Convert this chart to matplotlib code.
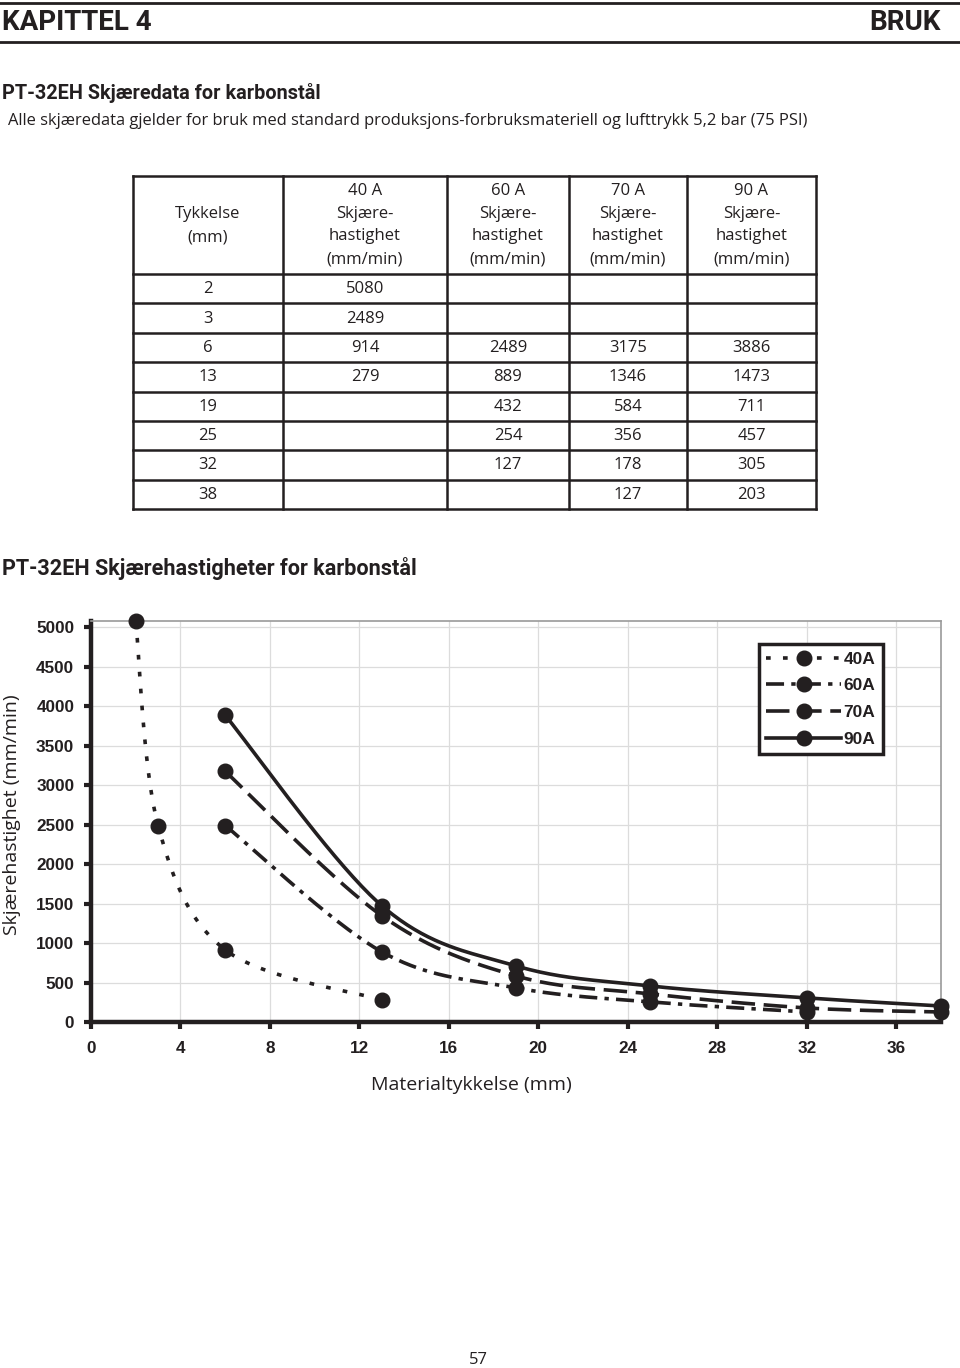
import numpy as np
import matplotlib
matplotlib.use('Agg')
import matplotlib.pyplot as plt
from matplotlib.lines import Line2D

# table / chart data
thickness = [2, 3, 6, 13, 19, 25, 32, 38]
speed_40a = [5080, 2489, 914, 279, None, None, None, None]
speed_60a = [None, None, 2489, 889, 432, 254, 127, None]
speed_70a = [None, None, 3175, 1346, 584, 356, 178, 127]
speed_90a = [None, None, 3886, 1473, 711, 457, 305, 203]
series_labels = ['40A', '60A', '70A', '90A']
col_headers = ['40 A', '60 A', '70 A', '90 A']
x_ticks = [0, 4, 8, 12, 16, 20, 24, 28, 32, 36]
y_ticks = [0, 500, 1000, 1500, 2000, 2500, 3000, 3500, 4000, 4500, 5000]

INK = '#231f20'
COND = ['Roboto', 'DejaVu Sans']
BODY = ['Open Sans', 'DejaVu Sans']
ARIAL = ['Liberation Sans', 'DejaVu Sans']


def smooth(xs, ys, n=40):
    # bezier smoothing like spreadsheet "smoothed line"
    p = np.column_stack([xs, ys]).astype(float)
    ext = np.vstack([p[0], p, p[-1]])
    out = []
    t = np.linspace(0, 1, n)[:, None]
    for i in range(len(p) - 1):
        p0, p3 = ext[i + 1], ext[i + 2]
        c1 = p0 + (ext[i + 2] - ext[i]) / 6
        c2 = p3 - (ext[i + 3] - ext[i + 1]) / 6
        seg = (1 - t) ** 3 * p0 + 3 * (1 - t) ** 2 * t * c1 + 3 * (1 - t) * t ** 2 * c2 + t ** 3 * p3
        out.append(seg if i == 0 else seg[1:])
    out = np.vstack(out)
    return out[:, 0], out[:, 1]


fig = plt.figure(figsize=(9.6, 13.68), dpi=100)
page = fig.add_axes([0, 0, 1, 1])
page.set_xlim(0, 960)
page.set_ylim(1368, 0)
page.axis('off')

# page header
page.plot([0, 960], [3, 3], color=INK, lw=2)
page.plot([0, 960], [42, 42], color=INK, lw=2)
page.text(2, 23, 'KAPITTEL 4', family=COND, weight='bold', fontsize=20, color=INK, va='center')
page.text(941, 23, 'BRUK', family=COND, weight='bold', fontsize=20, color=INK, va='center', ha='right')
page.text(2, 93, 'PT-32EH Skjæredata for karbonstål', family=COND, weight='bold', fontsize=14.3, color=INK, va='center')
page.text(8, 121, 'Alle skjæredata gjelder for bruk med standard produksjons-forbruksmateriell og lufttrykk 5,2 bar (75 PSI)',
          family=BODY, fontsize=11.9, color=INK, va='center')

# table
col_x = [133, 283, 447, 569, 687, 816]
top, head_bot, bot = 176, 274, 509
row_h = (bot - head_bot) / len(thickness)
for x in col_x:
    page.plot([x, x], [top, bot], color=INK, lw=1.8)
for y in [top, head_bot] + [head_bot + row_h * (i + 1) for i in range(len(thickness))]:
    page.plot([col_x[0], col_x[-1]], [y, y], color=INK, lw=1.8)

tf = dict(family=BODY, fontsize=12, color=INK, ha='center', va='center')
cx = [(col_x[i] + col_x[i + 1]) / 2 for i in range(5)]
page.text(cx[0], 214, 'Tykkelse', **tf)
page.text(cx[0], 237, '(mm)', **tf)
for j, h in enumerate(col_headers):
    for k, line in enumerate([h, 'Skjære-', 'hastighet', '(mm/min)']):
        page.text(cx[j + 1], 191 + k * 22.7, line, **tf)

columns = [speed_40a, speed_60a, speed_70a, speed_90a]
for i, t in enumerate(thickness):
    yc = head_bot + row_h * (i + 0.5) + 0.5
    page.text(cx[0], yc, str(t), **tf)
    for j, col in enumerate(columns):
        if col[i] is not None:
            page.text(cx[j + 1], yc, str(col[i]), **tf)

page.text(2, 568, 'PT-32EH Skjærehastigheter for karbonstål', family=COND, weight='bold', fontsize=15.6,
          color=INK, va='center')
page.text(478, 1360, '57', family=BODY, fontsize=12, color=INK, ha='center', va='center')

# chart
ax = fig.add_axes([91 / 960, 1 - 1022 / 1368, 850 / 960, 401 / 1368])
ax.set_xlim(0, 38)
ax.set_ylim(0, 5080)
ax.set_xticks(x_ticks)
ax.set_yticks(y_ticks)
ax.grid(True, color='#dcdcdc', lw=0.9)
ax.set_axisbelow(True)
for s in ['left', 'bottom']:
    ax.spines[s].set_linewidth(3.2)
    ax.spines[s].set_color(INK)
for s in ['top', 'right']:
    ax.spines[s].set_linewidth(1.2)
    ax.spines[s].set_color('#9a9a9a')
ax.tick_params(direction='out', length=5, width=3, color=INK, pad=9)
ax.tick_params(axis='y', pad=7)
for lab in ax.get_xticklabels() + ax.get_yticklabels():
    lab.set_family(ARIAL)
    lab.set_weight('bold')
    lab.set_fontsize(12.3)
    lab.set_color(INK)

styles = [(0, (1.3, 3.4)), (0, (5, 2, 1.2, 2)), (0, (6.5, 2.4)), '-']
handles = []
for col, ls, lab in zip(columns, styles, series_labels):
    xs = [t for t, v in zip(thickness, col) if v is not None]
    ys = [v for v in col if v is not None]
    sx, sy = smooth(xs, ys)
    ax.plot(sx, sy, color=INK, lw=2.6, ls=ls, clip_on=False)
    ax.plot(xs, ys, 'o', color=INK, ms=10.5, clip_on=False, zorder=5)
    handles.append(Line2D([], [], color=INK, lw=2.6, ls=ls, marker='o', ms=10.5))

leg = ax.legend(handles, series_labels, loc='upper right', bbox_to_anchor=(0.932, 0.943), borderaxespad=0,
                fancybox=False, framealpha=1, edgecolor=INK, handlelength=4.3, handletextpad=0.15,
                labelspacing=0.66, borderpad=0.45, prop=dict(family=ARIAL, weight='bold', size=12.5))
leg.get_frame().set_linewidth(2.5)
for t in leg.get_texts():
    t.set_color(INK)

fig.text(12 / 960, 1 - 815 / 1368, 'Skjærehastighet (mm/min)', family=BODY, fontsize=14, rotation=90,
         ha='center', va='center', color=INK)
fig.text(471 / 960, 1 - 1085 / 1368, 'Materialtykkelse (mm)', family=BODY, fontsize=14,
         ha='center', va='center', color=INK)

fig.savefig('out.png', dpi=100)
